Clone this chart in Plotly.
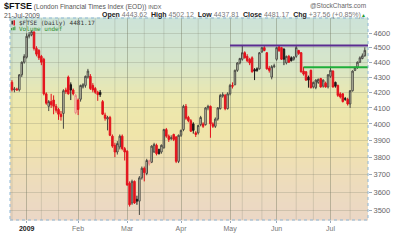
import math
import plotly.graph_objects as go

# ---------------- data ----------------
dates = [
    "2008-12-22", "2008-12-23", "2008-12-24", "2008-12-29", "2008-12-30", "2008-12-31",
    "2009-01-02", "2009-01-05", "2009-01-06", "2009-01-07", "2009-01-08", "2009-01-09",
    "2009-01-12", "2009-01-13", "2009-01-14", "2009-01-15", "2009-01-16", "2009-01-19",
    "2009-01-20", "2009-01-21", "2009-01-22", "2009-01-23", "2009-01-26", "2009-01-27",
    "2009-01-28", "2009-01-29", "2009-01-30",
    "2009-02-02", "2009-02-03", "2009-02-04", "2009-02-05", "2009-02-06", "2009-02-09",
    "2009-02-10", "2009-02-11", "2009-02-12", "2009-02-13", "2009-02-16", "2009-02-17",
    "2009-02-18", "2009-02-19", "2009-02-20", "2009-02-23", "2009-02-24", "2009-02-25",
    "2009-02-26", "2009-02-27",
    "2009-03-02", "2009-03-03", "2009-03-04", "2009-03-05", "2009-03-06", "2009-03-09",
    "2009-03-10", "2009-03-11", "2009-03-12", "2009-03-13", "2009-03-16", "2009-03-17",
    "2009-03-18", "2009-03-19", "2009-03-20", "2009-03-23", "2009-03-24", "2009-03-25",
    "2009-03-26", "2009-03-27", "2009-03-30", "2009-03-31",
    "2009-04-01", "2009-04-02", "2009-04-03", "2009-04-06", "2009-04-07", "2009-04-08",
    "2009-04-09", "2009-04-14", "2009-04-15", "2009-04-16", "2009-04-17", "2009-04-20",
    "2009-04-21", "2009-04-22", "2009-04-23", "2009-04-24", "2009-04-27", "2009-04-28",
    "2009-04-29", "2009-04-30",
    "2009-05-01", "2009-05-05", "2009-05-06", "2009-05-07", "2009-05-08", "2009-05-11",
    "2009-05-12", "2009-05-13", "2009-05-14", "2009-05-15", "2009-05-18", "2009-05-19",
    "2009-05-20", "2009-05-21", "2009-05-22", "2009-05-26", "2009-05-27", "2009-05-28",
    "2009-05-29",
    "2009-06-01", "2009-06-02", "2009-06-03", "2009-06-04", "2009-06-05", "2009-06-08",
    "2009-06-09", "2009-06-10", "2009-06-11", "2009-06-12", "2009-06-15", "2009-06-16",
    "2009-06-17", "2009-06-18", "2009-06-19", "2009-06-22", "2009-06-23", "2009-06-24",
    "2009-06-25", "2009-06-26", "2009-06-29", "2009-06-30",
    "2009-07-01", "2009-07-02", "2009-07-03", "2009-07-06", "2009-07-07", "2009-07-08",
    "2009-07-09", "2009-07-10", "2009-07-13", "2009-07-14", "2009-07-15", "2009-07-16",
    "2009-07-17", "2009-07-20", "2009-07-21",
]

opens = [
    4266, 4216, 4222, 4216, 4315, 4400,
    4434, 4580, 4590, 4610, 4495, 4480, 4440, 4420, 4190, 4110, 4140, 4150, 4110, 4090,
    4060, 4065, 4215, 4300, 4250, 4215, 4070,
    4150, 4155, 4235, 4245, 4300, 4305, 4245, 4225, 4200, 4200, 4140, 4055, 4030, 4040,
    3925, 3870, 3830, 3860, 3925, 3850,
    3835, 3650, 3540, 3660, 3560, 3550, 3680, 3735, 3705, 3760, 3770, 3830, 3870, 3845,
    3830, 3855, 3965, 3925, 3910, 3935, 3920, 3775,
    3930, 3965, 4110, 4040, 4020, 4000, 3945, 3945, 3995, 4000, 3995, 4100, 4110, 4000,
    3985, 4030, 4095, 4175, 4180, 4095,
    4190, 4245, 4250, 4345, 4395, 4420, 4465, 4440, 4420, 4430, 4350, 4355, 4355, 4470,
    4500, 4465, 4360, 4300, 4370,
    4420, 4505, 4500, 4490, 4395, 4440, 4430, 4420, 4440, 4480, 4465, 4340, 4335, 4300,
    4345, 4235, 4230, 4265, 4290, 4240, 4260, 4235,
    4305, 4340, 4265, 4245, 4190, 4190, 4160, 4155, 4125, 4210, 4345, 4365, 4400, 4425,
    4443.62,
]

highs = [
    4280, 4235, 4230, 4320, 4405, 4455,
    4600, 4610, 4620, 4615, 4510, 4490, 4450, 4430, 4200, 4150, 4190, 4180, 4125, 4100,
    4080, 4220, 4230, 4310, 4265, 4225, 4190,
    4160, 4250, 4260, 4310, 4355, 4320, 4260, 4235, 4210, 4215, 4150, 4070, 4050, 4050,
    3935, 3885, 3895, 3935, 3935, 3860,
    3840, 3660, 3670, 3665, 3580, 3690, 3745, 3745, 3790, 3785, 3870, 3885, 3880, 3850,
    3875, 3970, 3975, 3935, 3930, 3940, 3925, 3935,
    3965, 4120, 4125, 4050, 4030, 4010, 3955, 3995, 4050, 4010, 4105, 4120, 4115, 4010,
    4040, 4105, 4190, 4200, 4190, 4200,
    4255, 4265, 4350, 4400, 4430, 4518, 4475, 4455, 4430, 4440, 4360, 4365, 4470, 4505,
    4510, 4470, 4375, 4380, 4390,
    4505, 4518, 4505, 4495, 4445, 4450, 4440, 4440, 4518, 4485, 4470, 4368, 4340, 4310,
    4350, 4270, 4285, 4290, 4295, 4285, 4270, 4320,
    4370, 4345, 4270, 4250, 4200, 4195, 4170, 4165, 4215, 4345, 4370, 4405, 4440, 4460,
    4502.12,
]

lows = [
    4205, 4200, 4210, 4205, 4300, 4390,
    4425, 4565, 4580, 4480, 4440, 4415, 4380, 4180, 4120, 4080, 4100, 4060, 4070, 4025,
    4020, 3970, 4190, 4185, 4150, 4180, 4060,
    4055, 4140, 4225, 4230, 4290, 4215, 4200, 4190, 4145, 4170, 4055, 4020, 3960, 3925,
    3855, 3800, 3815, 3845, 3840, 3780,
    3635, 3520, 3530, 3535, 3530, 3475, 3670, 3660, 3695, 3750, 3765, 3825, 3810, 3815,
    3820, 3850, 3915, 3890, 3900, 3895, 3765, 3765,
    3920, 3955, 4025, 4010, 3950, 3940, 3920, 3935, 3985, 3975, 3990, 4085, 3915, 3975,
    3975, 4020, 4090, 4165, 4085, 4090,
    4180, 4225, 4245, 4335, 4385, 4410, 4425, 4400, 4380, 4330, 4280, 4335, 4350, 4465,
    4475, 4350, 4330, 4285, 4360,
    4410, 4470, 4415, 4380, 4385, 4395, 4405, 4410, 4430, 4450, 4330, 4310, 4275, 4230,
    4225, 4225, 4220, 4255, 4230, 4230, 4230, 4225,
    4295, 4230, 4230, 4170, 4160, 4135, 4145, 4115, 4100, 4205, 4340, 4355, 4395, 4420,
    4437.81,
]

closes = [
    4216, 4222, 4216, 4315, 4400, 4440,
    4580, 4590, 4612, 4495, 4455, 4430, 4400, 4190, 4130, 4140, 4120, 4110, 4085, 4060,
    4045, 4210, 4205, 4190, 4215, 4190, 4180,
    4090, 4245, 4250, 4305, 4340, 4225, 4215, 4200, 4185, 4185, 4060, 4035, 4040, 3930,
    3865, 3830, 3880, 3925, 3850, 3830,
    3640, 3530, 3660, 3540, 3550, 3680, 3735, 3710, 3780, 3778, 3865, 3875, 3820, 3820,
    3870, 3965, 3925, 3905, 3915, 3905, 3775, 3930,
    3960, 4110, 4035, 4020, 3955, 3960, 3935, 3990, 4040, 3985, 4100, 4110, 4000, 3985,
    4030, 4100, 4180, 4185, 4095, 4190,
    4245, 4240, 4345, 4395, 4425, 4465, 4430, 4410, 4395, 4335, 4340, 4345, 4465, 4500,
    4480, 4355, 4345, 4370, 4375,
    4500, 4480, 4420, 4420, 4440, 4400, 4410, 4435, 4500, 4460, 4335, 4320, 4280, 4280,
    4230, 4265, 4280, 4285, 4235, 4280, 4235, 4315,
    4345, 4235, 4240, 4180, 4170, 4140, 4155, 4125, 4210, 4340, 4365, 4400, 4430, 4443.61,
    4481.17,
]

month_tick_dates = ["2009-01-02", "2009-02-02", "2009-03-02", "2009-04-01",
                    "2009-05-01", "2009-06-01", "2009-07-01"]
month_tick_labels = ["2009", "Feb", "Mar", "Apr", "May", "Jun", "Jul"]
minor_grid_dates = ["2008-12-22", "2009-01-12", "2009-01-21", "2009-02-11", "2009-02-23",
                    "2009-03-11", "2009-03-23", "2009-04-14", "2009-04-21", "2009-05-11",
                    "2009-05-21", "2009-06-11", "2009-06-22", "2009-07-13"]
price_ticks = [3500, 3600, 3700, 3800, 3900, 4000, 4100, 4200, 4300, 4400, 4500, 4600]

resistance_level = 4515
resistance_start = "2009-05-01"
support_level = 4365
support_start = "2009-06-16"

# ---------------- layout geometry ----------------
W, H = 400, 243
PL, PR, PT, PB = 10, 372, 18, 232          # plot area in pixels
X_RANGE = [-0.8, len(dates) - 1 + 1.3]
Y_RANGE = [math.log10(3448), math.log10(4711)]


def px(x):
    return (x - PL) / (PR - PL)


def py(y):
    return (PB - y) / (PB - PT)


# split candles by close vs previous close (StockCharts colouring)
up_idx, dn_idx = [], []
for i in range(len(dates)):
    prev = closes[i - 1] if i > 0 else opens[i]
    (up_idx if closes[i] >= prev else dn_idx).append(i)


def sub(lst, idx):
    return [lst[i] for i in idx]


fig = go.Figure()
fig.add_trace(go.Candlestick(
    x=sub(dates, up_idx), open=sub(opens, up_idx), high=sub(highs, up_idx),
    low=sub(lows, up_idx), close=sub(closes, up_idx),
    increasing=dict(line=dict(color="#4a4a44", width=1), fillcolor="rgba(225,225,215,0.55)"),
    decreasing=dict(line=dict(color="#1a1a1a", width=1), fillcolor="#1a1a1a"),
    whiskerwidth=0, showlegend=False, hoverinfo="skip"))
fig.add_trace(go.Candlestick(
    x=sub(dates, dn_idx), open=sub(opens, dn_idx), high=sub(highs, dn_idx),
    low=sub(lows, dn_idx), close=sub(closes, dn_idx),
    increasing=dict(line=dict(color="#ec8a8a", width=1), fillcolor="rgba(255,210,210,0.4)"),
    decreasing=dict(line=dict(color="#e3121c", width=1), fillcolor="#e3121c"),
    whiskerwidth=0, showlegend=False, hoverinfo="skip"))

shapes = []
# background gradient (top mint -> yellow -> peach)
stops = [(0.0, (204, 227, 216)), (0.22, (214, 229, 202)), (0.40, (236, 232, 174)),
         (0.58, (240, 229, 170)), (0.78, (238, 221, 186)), (1.0, (235, 215, 198))]


def grad(t):
    for (t0, c0), (t1, c1) in zip(stops[:-1], stops[1:]):
        if t0 <= t <= t1:
            f = (t - t0) / (t1 - t0)
            return "rgb(%d,%d,%d)" % tuple(round(a + (b - a) * f) for a, b in zip(c0, c1))
    return "rgb(%d,%d,%d)" % stops[-1][1]


NB = 70
for k in range(NB):
    t = (k + 0.5) / NB
    shapes.append(dict(type="rect", xref="x domain", yref="y domain", x0=0, x1=1,
                       y0=1 - (k + 1) / NB - 0.002, y1=1 - k / NB + 0.002,
                       fillcolor=grad(t), line=dict(width=0), layer="below"))
# minor vertical grid lines
for d in minor_grid_dates:
    shapes.append(dict(type="line", xref="x", yref="y domain", x0=d, x1=d, y0=0, y1=1,
                       line=dict(color="rgba(120,125,105,0.22)", width=1), layer="below"))
# resistance / support lines
shapes.append(dict(type="line", xref="x", yref="y", x0=resistance_start, x1=X_RANGE[1],
                   y0=resistance_level, y1=resistance_level,
                   line=dict(color="#5b2c91", width=2), layer="above"))
shapes.append(dict(type="line", xref="x", yref="y", x0=support_start, x1=X_RANGE[1],
                   y0=support_level, y1=support_level,
                   line=dict(color="#1fae3a", width=2), layer="above"))
# dotted frame
shapes.append(dict(type="rect", xref="x domain", yref="y domain", x0=0, x1=1, y0=0, y1=1,
                   line=dict(color="#8db6d6", width=1, dash="dot"), layer="above"))
# legend icons inside plot
shapes.append(dict(type="rect", xref="paper", yref="paper", x0=px(11.5), x1=px(13), y0=py(25), y1=py(21),
                   fillcolor="#333", line=dict(width=0)))
shapes.append(dict(type="rect", xref="paper", yref="paper", x0=px(13.5), x1=px(15), y0=py(26), y1=py(20.5),
                   fillcolor="#e3121c", line=dict(width=0)))
for i, (a, b) in enumerate([(11.2, 12.2), (12.8, 13.8), (14.4, 15.4)]):
    shapes.append(dict(type="rect", xref="paper", yref="paper", x0=px(a), x1=px(b),
                       y0=py(31), y1=py(28.5 - i * 0.8), fillcolor="#2f8f2f", line=dict(width=0)))

SANS = "Liberation Sans, Arial, sans-serif"
ann = []


def text(x, y, s, size=7, color="#555", anchor="left", family=SANS):
    ann.append(dict(x=px(x), y=py(y), xref="paper", yref="paper", text=s, showarrow=False,
                    xanchor=anchor, yanchor="middle", font=dict(size=size, color=color, family=family)))


GV = "<span style='color:#7a7a7a'>%s</span>"
text(1.5, 5.5,
     "<span style='font-size:9px;color:#111'><b>$FTSE</b></span> "
     "(London Financial Times Index (EOD)) <span style='font-size:5.5px'>INDX</span>",
     size=6.6, color="#555")
text(372, 5, "@StockCharts.com", size=6.5, color="#666", anchor="right")
text(1.5, 15.3, "21-Jul-2009", size=6.8, color="#555")
text(366.5, 15.3,
     "<b>Open</b> " + GV % "4443.62" + "  <b>High</b> " + GV % "4502.12" +
     "  <b>Low</b> " + GV % "4437.81" + "  <b>Close</b> " + GV % "4481.17" +
     "  <b>Chg</b> " + GV % "+37.56 (+0.85%)",
     size=7, color="#222", anchor="right")
text(372.5, 15.3, "▲", size=5, color="#1f9a2f", anchor="right")
text(17, 23, "$FTSE (Daily) 4481.17", size=6, color="#333", family="DejaVu Sans Mono")
text(17, 29, "Volume undef", size=6, color="#2f8f2f", family="DejaVu Sans Mono")

tick_text = ["<span style='color:#222'><b>%s</b></span>" % l if l == "2009" else l
             for l in month_tick_labels]

fig.update_layout(
    width=W, height=H,
    margin=dict(l=PL, r=W - PR, t=PT, b=H - PB, pad=0),
    paper_bgcolor="white", plot_bgcolor="rgb(236,230,190)",
    boxgap=0.12,
    shapes=shapes, annotations=ann,
    xaxis=dict(type="category", categoryorder="array", categoryarray=dates,
               range=X_RANGE, rangeslider=dict(visible=False),
               tickmode="array", tickvals=month_tick_dates, ticktext=tick_text,
               showgrid=True, gridcolor="rgba(115,120,95,0.42)", gridwidth=1,
               ticks="outside", ticklen=2, tickcolor="#9ab",
               tickfont=dict(size=7, color="#777", family=SANS),
               showline=False, zeroline=False, fixedrange=True),
    yaxis=dict(type="log", range=Y_RANGE, side="right",
               tickmode="array", tickvals=price_ticks, ticktext=[str(v) for v in price_ticks],
               showgrid=True, gridcolor="rgba(120,125,105,0.25)", gridwidth=1,
               ticks="outside", ticklen=3, tickcolor="#9ab",
               tickfont=dict(size=7.5, color="#666", family=SANS),
               showline=False, zeroline=False, fixedrange=True),
    showlegend=False,
)

fig.write_html("out.html")
